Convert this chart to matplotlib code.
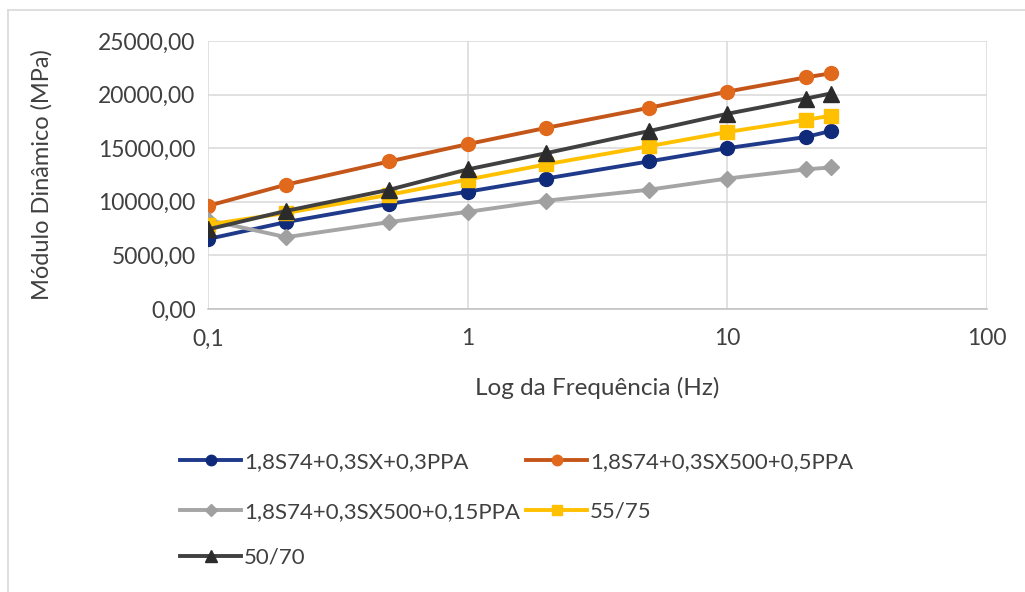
import numpy as np
import matplotlib.pyplot as plt
from matplotlib.ticker import FuncFormatter, FixedLocator, NullLocator
from matplotlib.lines import Line2D

plt.rcParams['font.family'] = ['Lato', 'DejaVu Sans']

# frequencies (Hz) and dynamic modulus (MPa) for each binder
freq = [0.1, 0.2, 0.5, 1, 2, 5, 10, 20, 25]
mod_sx_03ppa = [6530, 8110, 9810, 10940, 12170, 13770, 15000, 16040, 16600]
mod_sx500_05ppa = [9620, 11600, 13770, 15380, 16890, 18770, 20280, 21600, 21980]
mod_sx500_015ppa = [8300, 6700, 8110, 9060, 10100, 11130, 12170, 13020, 13210]
mod_5575 = [7870, 8960, 10660, 12075, 13490, 15190, 16510, 17640, 18020]
mod_5070 = [7430, 9150, 11130, 13020, 14530, 16600, 18210, 19620, 20100]

x_ticks = [0.1, 1, 10, 100]
x_tick_labels = ['0,1', '1', '10', '100']
y_ticks = [0, 5000, 10000, 15000, 20000, 25000]

series = [
    ('1,8S74+0,3SX+0,3PPA', mod_sx_03ppa, '#1f3a8a', '#102a7a', 'o', 10),
    ('1,8S74+0,3SX500+0,5PPA', mod_sx500_05ppa, '#c4561a', '#e0691c', 'o', 10),
    ('1,8S74+0,3SX500+0,15PPA', mod_sx500_015ppa, '#a5a5a5', '#a0a0a0', 'D', 8),
    ('55/75', mod_5575, '#ffc000', '#ffc000', 's', 10),
    ('50/70', mod_5070, '#404040', '#2b2b2b', '^', 11),
]

fig = plt.figure(figsize=(10.25, 5.92), dpi=100)
ax = fig.add_axes([208 / 1025, 1 - 309 / 592, (987 - 208) / 1025, (309 - 41) / 592])

handles = {}
for name, vals, lc, mc, mk, ms in series:
    h, = ax.plot(freq, vals, color=lc, lw=2.8, marker=mk, markersize=ms,
                 markerfacecolor=mc, markeredgecolor=mc, label=name, zorder=3)
    handles[name] = h

ax.set_xscale('log')
ax.set_xlim(0.1, 100)
ax.set_ylim(0, 25000)
ax.xaxis.set_major_locator(FixedLocator(x_ticks))
ax.xaxis.set_minor_locator(NullLocator())
ax.set_xticklabels(x_tick_labels)
ax.set_yticks(y_ticks)
ax.yaxis.set_major_formatter(FuncFormatter(lambda v, p: f'{v:.2f}'.replace('.', ',')))

ax.grid(True, color='#d9d9d9', lw=1.1)
ax.set_axisbelow(True)
for s in ['top', 'right', 'left']:
    ax.spines[s].set_visible(False)
ax.spines['bottom'].set_color('#bfbfbf')
ax.spines['bottom'].set_linewidth(1.1)
ax.tick_params(length=0, labelsize=16.5, colors='#404040')
ax.tick_params(axis='y', pad=9)
ax.tick_params(axis='x', pad=14)
ax.set_ylabel('Módulo Dinâmico (MPa)', fontsize=17, color='#404040')
ax.set_xlabel('Log da Frequência (Hz)', fontsize=17.5, color='#404040')
ax.yaxis.set_label_coords(-0.2, 0.5)
ax.xaxis.set_label_coords(0.5, -0.255)

# legend entries laid out in two columns
legend_spots = [
    ('1,8S74+0,3SX+0,3PPA', 180, 462),
    ('1,8S74+0,3SX500+0,5PPA', 526, 462),
    ('1,8S74+0,3SX500+0,15PPA', 180, 512),
    ('55/75', 526, 512),
    ('50/70', 180, 558),
]
for name, px, py in legend_spots:
    h = handles[name]
    proxy = Line2D([], [], color=h.get_color(), lw=2.8, marker=h.get_marker(),
                   markersize=h.get_markersize() * 0.75,
                   markerfacecolor=h.get_markerfacecolor(),
                   markeredgecolor=h.get_markeredgecolor())
    fig.legend([proxy], [name], loc='center left',
               bbox_to_anchor=(px / 1025, 1 - py / 592), frameon=False,
               fontsize=16, handlelength=2.75, handletextpad=0.12,
               borderpad=0, borderaxespad=0, labelcolor='#404040')

# chart area frame
fig.add_artist(Line2D([8 / 1025, 8 / 1025], [0, 1 - 10 / 592], color='#d9d9d9', lw=1.2))
fig.add_artist(Line2D([8 / 1025, 1], [1 - 10 / 592, 1 - 10 / 592], color='#d9d9d9', lw=1.2))

fig.savefig('out.png', dpi=100)
